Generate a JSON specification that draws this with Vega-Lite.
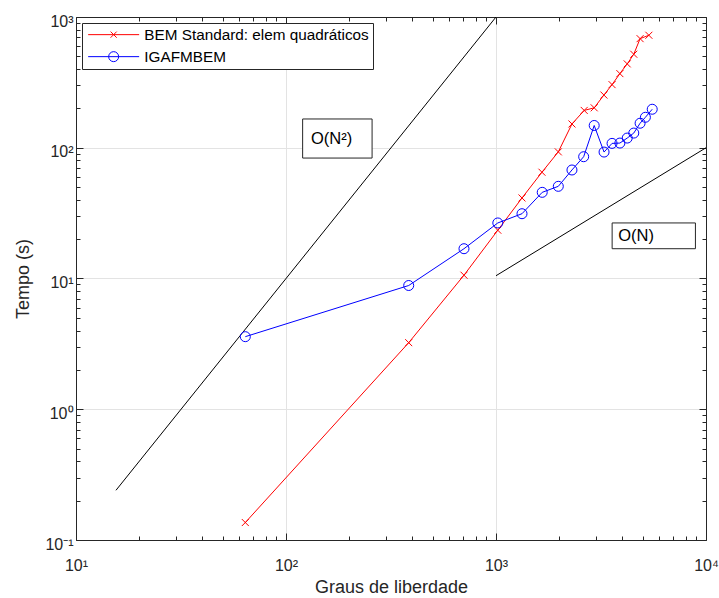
{
  "$schema": "https://vega.github.io/schema/vega-lite/v6.json",
  "width": 630,
  "height": 523,
  "autosize": {"type": "none"},
  "padding": {"left": 76, "top": 17, "right": 13, "bottom": 58},
  "config": {
    "font": "Liberation Sans",
    "view": {"stroke": null},
    "axis": {
      "domainColor": "#262626",
      "domainWidth": 1,
      "tickColor": "#262626",
      "tickWidth": 1,
      "labelColor": "#262626",
      "titleColor": "#262626",
      "labelFont": "Liberation Sans",
      "titleFont": "Liberation Sans",
      "labelFontSize": 16,
      "titleFontSize": 18,
      "titleFontWeight": "normal",
      "gridColor": "#e3e3e3",
      "gridWidth": 1,
      "labelFlush": false,
      "labelOverlap": false
    },
    "legend": {
      "labelFont": "Liberation Sans",
      "labelFontSize": 15.3,
      "labelColor": "#000000",
      "labelLimit": 0
    }
  },
  "datasets": {
    "series": [
      {"dof": 64, "tempo": 0.136, "serie": "BEM Standard: elem quadráticos"},
      {"dof": 384, "tempo": 3.23, "serie": "BEM Standard: elem quadráticos"},
      {"dof": 704, "tempo": 10.6, "serie": "BEM Standard: elem quadráticos"},
      {"dof": 1020, "tempo": 23.4, "serie": "BEM Standard: elem quadráticos"},
      {"dof": 1330, "tempo": 41.3, "serie": "BEM Standard: elem quadráticos"},
      {"dof": 1655, "tempo": 65, "serie": "BEM Standard: elem quadráticos"},
      {"dof": 1980, "tempo": 93, "serie": "BEM Standard: elem quadráticos"},
      {"dof": 2300, "tempo": 152, "serie": "BEM Standard: elem quadráticos"},
      {"dof": 2630, "tempo": 193, "serie": "BEM Standard: elem quadráticos"},
      {"dof": 2935, "tempo": 202, "serie": "BEM Standard: elem quadráticos"},
      {"dof": 3265, "tempo": 253, "serie": "BEM Standard: elem quadráticos"},
      {"dof": 3570, "tempo": 304, "serie": "BEM Standard: elem quadráticos"},
      {"dof": 3890, "tempo": 369, "serie": "BEM Standard: elem quadráticos"},
      {"dof": 4215, "tempo": 438, "serie": "BEM Standard: elem quadráticos"},
      {"dof": 4530, "tempo": 519, "serie": "BEM Standard: elem quadráticos"},
      {"dof": 4855, "tempo": 683, "serie": "BEM Standard: elem quadráticos"},
      {"dof": 5345, "tempo": 725, "serie": "BEM Standard: elem quadráticos"},
      {"dof": 64, "tempo": 3.59, "serie": "IGAFMBEM"},
      {"dof": 384, "tempo": 8.84, "serie": "IGAFMBEM"},
      {"dof": 704, "tempo": 16.9, "serie": "IGAFMBEM"},
      {"dof": 1020, "tempo": 26.6, "serie": "IGAFMBEM"},
      {"dof": 1330, "tempo": 31.3, "serie": "IGAFMBEM"},
      {"dof": 1660, "tempo": 45.6, "serie": "IGAFMBEM"},
      {"dof": 1980, "tempo": 50.7, "serie": "IGAFMBEM"},
      {"dof": 2300, "tempo": 67.6, "serie": "IGAFMBEM"},
      {"dof": 2615, "tempo": 85.4, "serie": "IGAFMBEM"},
      {"dof": 2935, "tempo": 148, "serie": "IGAFMBEM"},
      {"dof": 3270, "tempo": 92.7, "serie": "IGAFMBEM"},
      {"dof": 3570, "tempo": 108, "serie": "IGAFMBEM"},
      {"dof": 3890, "tempo": 108.6, "serie": "IGAFMBEM"},
      {"dof": 4215, "tempo": 118.6, "serie": "IGAFMBEM"},
      {"dof": 4530, "tempo": 129.5, "serie": "IGAFMBEM"},
      {"dof": 4855, "tempo": 154, "serie": "IGAFMBEM"},
      {"dof": 5145, "tempo": 171, "serie": "IGAFMBEM"},
      {"dof": 5545, "tempo": 197, "serie": "IGAFMBEM"}
    ],
    "refs": [
      {"ref": "N2", "dof": 15.5, "tempo": 0.24},
      {"ref": "N2", "dof": 1000, "tempo": 1000},
      {"ref": "N", "dof": 1000, "tempo": 10.5},
      {"ref": "N", "dof": 10000, "tempo": 100}
    ],
    "boxes": [
      {"label": "O(N²)", "x1": 120, "x2": 257, "y1": 83.4, "y2": 166, "tx": 131.5, "ty": 117},
      {"label": "O(N)", "x1": 3573, "x2": 8906, "y1": 16.9, "y2": 26.6, "tx": 3816, "ty": 21.2}
    ]
  },
  "layer": [
    {
      "data": {"name": "refs"},
      "mark": {"type": "line", "color": "#000000", "strokeWidth": 1},
      "encoding": {
        "x": {"field": "dof", "type": "quantitative", "scale": {"type": "log", "domain": [10, 10000], "nice": false}, "axis": null},
        "y": {"field": "tempo", "type": "quantitative", "scale": {"type": "log", "domain": [0.1, 1000], "nice": false}, "axis": null},
        "detail": {"field": "ref"}
      }
    },
    {
      "data": {"name": "boxes"},
      "mark": {"type": "rect", "fill": "#ffffff", "stroke": "#262626", "strokeWidth": 1},
      "encoding": {
        "x": {"field": "x1", "type": "quantitative", "axis": null},
        "x2": {"field": "x2"},
        "y": {"field": "y1", "type": "quantitative", "axis": null},
        "y2": {"field": "y2"}
      }
    },
    {
      "data": {"name": "boxes"},
      "mark": {"type": "text", "align": "left", "baseline": "middle", "fontSize": 16.5, "color": "#000000", "font": "Liberation Sans"},
      "encoding": {
        "x": {"field": "tx", "type": "quantitative", "axis": null},
        "y": {"field": "ty", "type": "quantitative", "axis": null},
        "text": {"field": "label"}
      }
    },
    {
      "data": {"name": "series"},
      "mark": {"type": "line", "strokeWidth": 1},
      "encoding": {
        "x": {
          "field": "dof", "type": "quantitative",
          "axis": {
            "orient": "bottom",
            "title": "Graus de liberdade",
            "values": [10,20,30,40,50,60,70,80,90,100,200,300,400,500,600,700,800,900,1000,2000,3000,4000,5000,6000,7000,8000,9000,10000],
            "labelExpr": "datum.value == 10 ? '10¹' : datum.value == 100 ? '10²' : datum.value == 1000 ? '10³' : datum.value == 10000 ? '10⁴' : ''",
            "grid": true,
            "gridOpacity": {"condition": {"test": "indexof([0.1,1,10,100,1000,10000], datum.value) >= 0", "value": 1}, "value": 0},
            "tickSize": {"condition": {"test": "indexof([0.1,1,10,100,1000,10000], datum.value) >= 0", "value": -7}, "value": -4},
            "labelPadding": 24,
            "titlePadding": 2
          }
        },
        "y": {
          "field": "tempo", "type": "quantitative",
          "axis": {
            "orient": "left",
            "title": "Tempo (s)",
            "values": [0.1,0.2,0.3,0.4,0.5,0.6,0.7,0.8,0.9,1,2,3,4,5,6,7,8,9,10,20,30,40,50,60,70,80,90,100,200,300,400,500,600,700,800,900,1000],
            "labelExpr": "datum.value == 0.1 ? '10⁻¹' : datum.value == 1 ? '10⁰' : datum.value == 10 ? '10¹' : datum.value == 100 ? '10²' : datum.value == 1000 ? '10³' : ''",
            "grid": true,
            "gridOpacity": {"condition": {"test": "indexof([0.1,1,10,100,1000,10000], datum.value) >= 0", "value": 1}, "value": 0},
            "tickSize": {"condition": {"test": "indexof([0.1,1,10,100,1000,10000], datum.value) >= 0", "value": -7}, "value": -4},
            "labelPadding": 10,
            "labelOffset": 4,
            "titlePadding": 12
          }
        },
        "detail": {"field": "serie"},
        "color": {"condition": {"test": "datum.serie == 'IGAFMBEM'", "value": "#0000ff"}, "value": "#ff0000"}
      }
    },
    {
      "data": {"name": "series"},
      "transform": [{"filter": "datum.serie == 'BEM Standard: elem quadráticos'"}],
      "mark": {"type": "point", "shape": "M-1,-1L1,1M-1,1L1,-1", "size": 49, "filled": false, "color": "#ff0000", "strokeWidth": 1, "opacity": 1},
      "encoding": {
        "x": {
          "field": "dof", "type": "quantitative",
          "axis": {
            "orient": "top", "title": null, "labels": false, "grid": false,
            "values": [10,20,30,40,50,60,70,80,90,100,200,300,400,500,600,700,800,900,1000,2000,3000,4000,5000,6000,7000,8000,9000,10000],
            "tickSize": {"condition": {"test": "indexof([0.1,1,10,100,1000,10000], datum.value) >= 0", "value": -7}, "value": -4}
          }
        },
        "y": {
          "field": "tempo", "type": "quantitative",
          "axis": {
            "orient": "right", "title": null, "labels": false, "grid": false,
            "values": [0.1,0.2,0.3,0.4,0.5,0.6,0.7,0.8,0.9,1,2,3,4,5,6,7,8,9,10,20,30,40,50,60,70,80,90,100,200,300,400,500,600,700,800,900,1000],
            "tickSize": {"condition": {"test": "indexof([0.1,1,10,100,1000,10000], datum.value) >= 0", "value": -7}, "value": -4}
          }
        }
      }
    },
    {
      "data": {"name": "series"},
      "transform": [{"filter": "datum.serie == 'IGAFMBEM'"}],
      "mark": {"type": "point", "shape": "circle", "size": 100, "filled": false, "color": "#0000ff", "strokeWidth": 1, "opacity": 1},
      "encoding": {
        "x": {"field": "dof", "type": "quantitative", "axis": null},
        "y": {"field": "tempo", "type": "quantitative", "axis": null}
      }
    },
    {
      "data": {"name": "series"},
      "transform": [{"filter": "datum.dof < 0"}],
      "mark": {"type": "point", "filled": false, "strokeWidth": 1, "opacity": 1},
      "encoding": {
        "x": {"field": "dof", "type": "quantitative", "axis": null},
        "y": {"field": "tempo", "type": "quantitative", "axis": null},
        "color": {
          "field": "serie", "type": "nominal",
          "scale": {"domain": ["BEM Standard: elem quadráticos", "IGAFMBEM"], "range": ["#ff0000", "#0000ff"]},
          "legend": {"orient": "top-left", "offset": 6, "title": null, "padding": 4, "symbolSize": 26, "symbolOffset": 20, "labelOffset": 23, "rowPadding": 6, "strokeColor": "#262626", "fillColor": "#ffffff", "symbolStrokeWidth": 1, "labelLimit": 0}
        },
        "shape": {
          "field": "serie", "type": "nominal",
          "scale": {"domain": ["BEM Standard: elem quadráticos", "IGAFMBEM"], "range": ["M-10,0L10,0M-1.2,-1.2L1.2,1.2M-1.2,1.2L1.2,-1.2", "M-10,0L10,0M-1.96,0A1.96,1.96,0,1,0,1.96,0A1.96,1.96,0,1,0,-1.96,0"]},
          "legend": {"orient": "top-left", "offset": 6, "title": null, "padding": 4, "symbolSize": 26, "symbolOffset": 20, "labelOffset": 23, "rowPadding": 6, "strokeColor": "#262626", "fillColor": "#ffffff", "symbolStrokeWidth": 1, "labelLimit": 0}
        }
      }
    }
  ]
}
